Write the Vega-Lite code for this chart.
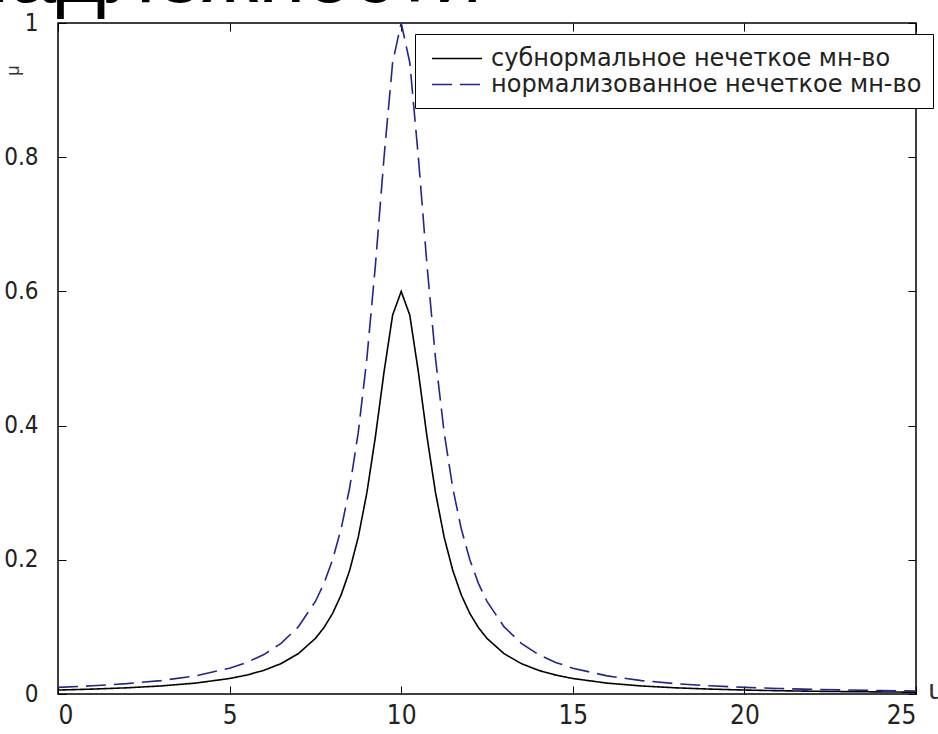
{
  "$schema": "https://vega.github.io/schema/vega-lite/v6.json",
  "autosize": {"type": "none"},
  "width": 858,
  "height": 671,
  "padding": {"left": 58, "top": 23, "right": 22, "bottom": 40},
  "background": "white",
  "title": {"text": "надлежности", "anchor": "start", "frame": "group", "fontSize": 85, "font": "Liberation Sans", "fontWeight": "normal", "color": "black", "baseline": "alphabetic", "offset": -76, "dx": -96},
  "config": {
    "view": {"stroke": "black", "strokeWidth": 1.5},
    "axis": {"grid": false, "domain": false, "tickColor": "black", "labelColor": "#222", "labelFont": "DejaVu Sans Condensed", "titleFont": "Liberation Sans", "titleFontWeight": "normal"}
  },
  "data": {"values": [
    {"u": 0, "sub": 0.0059, "norm": 0.0099},
    {"u": 1, "sub": 0.0073, "norm": 0.0122},
    {"u": 2, "sub": 0.0092, "norm": 0.0154},
    {"u": 3, "sub": 0.0120, "norm": 0.0200},
    {"u": 4, "sub": 0.0162, "norm": 0.0270},
    {"u": 5, "sub": 0.0231, "norm": 0.0385},
    {"u": 5.5, "sub": 0.0282, "norm": 0.0471},
    {"u": 6, "sub": 0.0353, "norm": 0.0588},
    {"u": 6.5, "sub": 0.0453, "norm": 0.0755},
    {"u": 7, "sub": 0.0600, "norm": 0.1000},
    {"u": 7.5, "sub": 0.0828, "norm": 0.1379},
    {"u": 7.75, "sub": 0.0990, "norm": 0.1649},
    {"u": 8, "sub": 0.1200, "norm": 0.2000},
    {"u": 8.25, "sub": 0.1477, "norm": 0.2462},
    {"u": 8.5, "sub": 0.1846, "norm": 0.3077},
    {"u": 8.75, "sub": 0.2341, "norm": 0.3902},
    {"u": 9, "sub": 0.3000, "norm": 0.5000},
    {"u": 9.25, "sub": 0.3840, "norm": 0.6400},
    {"u": 9.5, "sub": 0.4800, "norm": 0.8000},
    {"u": 9.75, "sub": 0.5647, "norm": 0.9412},
    {"u": 10, "sub": 0.6000, "norm": 1.0000},
    {"u": 10.25, "sub": 0.5647, "norm": 0.9412},
    {"u": 10.5, "sub": 0.4800, "norm": 0.8000},
    {"u": 10.75, "sub": 0.3840, "norm": 0.6400},
    {"u": 11, "sub": 0.3000, "norm": 0.5000},
    {"u": 11.25, "sub": 0.2341, "norm": 0.3902},
    {"u": 11.5, "sub": 0.1846, "norm": 0.3077},
    {"u": 11.75, "sub": 0.1477, "norm": 0.2462},
    {"u": 12, "sub": 0.1200, "norm": 0.2000},
    {"u": 12.25, "sub": 0.0990, "norm": 0.1649},
    {"u": 12.5, "sub": 0.0828, "norm": 0.1379},
    {"u": 13, "sub": 0.0600, "norm": 0.1000},
    {"u": 13.5, "sub": 0.0453, "norm": 0.0755},
    {"u": 14, "sub": 0.0353, "norm": 0.0588},
    {"u": 14.5, "sub": 0.0282, "norm": 0.0471},
    {"u": 15, "sub": 0.0231, "norm": 0.0385},
    {"u": 16, "sub": 0.0162, "norm": 0.0270},
    {"u": 17, "sub": 0.0120, "norm": 0.0200},
    {"u": 18, "sub": 0.0092, "norm": 0.0154},
    {"u": 19, "sub": 0.0073, "norm": 0.0122},
    {"u": 20, "sub": 0.0059, "norm": 0.0099},
    {"u": 21, "sub": 0.0049, "norm": 0.0082},
    {"u": 22, "sub": 0.0041, "norm": 0.0069},
    {"u": 23, "sub": 0.0035, "norm": 0.0059},
    {"u": 24, "sub": 0.0031, "norm": 0.0051},
    {"u": 25, "sub": 0.0027, "norm": 0.0044}
  ]},
  "transform": [
    {"fold": ["sub", "norm"], "as": ["key", "mu"]},
    {"lookup": "key", "from": {"data": {"values": [
      {"key": "sub", "s": "субнормальное нечеткое мн-во"},
      {"key": "norm", "s": "нормализованное нечеткое мн-во"}
    ]}, "key": "key", "fields": ["s"]}}
  ],
  "layer": [
    {
      "mark": {"type": "line", "strokeWidth": 1.6, "clip": true},
      "encoding": {
        "x": {"field": "u", "type": "quantitative", "scale": {"domain": [0, 25], "nice": false},
              "axis": {"values": [0, 5, 10, 15, 20, 25], "tickSize": -8, "labelFontSize": 26, "labelPadding": 16, "title": "u", "titleFontSize": 28, "titleX": 870, "titleY": -4, "titleAlign": "left", "titleBaseline": "middle", "titleAngle": 0, "titleColor": "#333"}},
        "y": {"field": "mu", "type": "quantitative", "scale": {"domain": [0, 1], "nice": false},
              "axis": {"values": [0, 0.2, 0.4, 0.6, 0.8, 1], "format": "~g", "tickSize": -8, "labelFontSize": 24, "labelPadding": 28, "title": "μ", "titleFontSize": 18, "titleX": -36, "titleY": 47, "titleAngle": 270, "titleAlign": "center", "titleColor": "#333"}},
        "color": {"field": "s", "type": "nominal",
                  "scale": {"domain": ["субнормальное нечеткое мн-во", "нормализованное нечеткое мн-во"], "range": ["#000000", "#24248f"]},
                  "legend": {"orient": "none", "legendX": 357, "legendY": 11, "title": null, "strokeColor": "black", "fillColor": "white", "padding": 11, "labelFont": "DejaVu Sans", "labelFontSize": 24, "labelColor": "#222", "symbolType": "M-0.6,0H3.4", "symbolSize": 625, "symbolStrokeWidth": 1.5, "rowPadding": 0, "labelOffset": 38, "labelLimit": 600}},
        "strokeDash": {"field": "s", "type": "nominal",
                       "scale": {"domain": ["субнормальное нечеткое мн-во", "нормализованное нечеткое мн-во"], "range": [[1, 0], [20, 8]]},
                       "legend": {"orient": "none", "legendX": 357, "legendY": 11, "title": null}}
      }
    },
    {
      "mark": {"type": "line", "opacity": 0},
      "encoding": {
        "x": {"field": "u", "type": "quantitative", "scale": {"domain": [0, 25], "nice": false},
              "axis": {"orient": "top", "values": [0, 5, 10, 15, 20, 25], "tickSize": -8, "labels": false, "title": null}},
        "y": {"field": "mu", "type": "quantitative", "scale": {"domain": [0, 1], "nice": false},
              "axis": {"orient": "right", "values": [0, 0.2, 0.4, 0.6, 0.8, 1], "tickSize": -8, "labels": false, "title": null}},
        "detail": {"field": "key"}
      }
    }
  ],
  "resolve": {"axis": {"x": "independent", "y": "independent"}}
}
